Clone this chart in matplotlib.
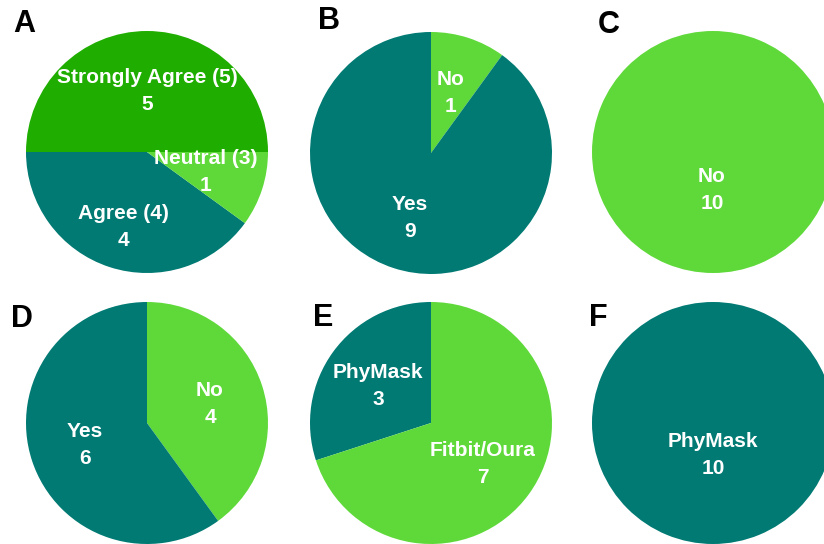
import matplotlib.pyplot as plt

TEAL = "#007A73"
LIGHT = "#5FD93A"
DARK = "#1FAE00"

# survey answers per panel
a_labels = ["Strongly Agree (5)", "Agree (4)", "Neutral (3)"]
a_values = [5, 4, 1]
b_labels = ["No", "Yes"]
b_values = [1, 9]
c_labels = ["No"]
c_values = [10]
d_labels = ["No", "Yes"]
d_values = [4, 6]
e_labels = ["PhyMask", "Fitbit/Oura"]
e_values = [3, 7]
f_labels = ["PhyMask"]
f_values = [10]

H = 544
fig = plt.figure(figsize=(8.24, 5.44), dpi=100)
ax = fig.add_axes([0, 0, 1, 1])

R = 121
panels = [
    # letter, letter pos, center, labels, values, colors, start, ccw, text positions
    ("A", (24, 24), (147, 152), a_labels, a_values, [DARK, TEAL, LIGHT], 0, True,
     [(147, 91), (123, 227), (206, 172)]),
    ("B", (329, 21), (431, 153), b_labels, b_values, [LIGHT, TEAL], 90, False,
     [(451, 93), (410, 218)]),
    ("C", (609, 25), (713, 152), c_labels, c_values, [LIGHT], 90, False,
     [(712, 190)]),
    ("D", (22, 319), (147, 423), d_labels, d_values, [LIGHT, TEAL], 90, False,
     [(210, 404), (85, 445)]),
    ("E", (323, 318), (431, 423), e_labels, e_values, [TEAL, LIGHT], 90, True,
     [(378, 386), (483, 464)]),
    ("F", (598, 318), (713, 423), f_labels, f_values, [TEAL], 90, False,
     [(713, 455)]),
]

for letter, lpos, center, labels, values, colors, start, ccw, tpos in panels:
    ax.pie(values, colors=colors, startangle=start, counterclock=ccw,
           center=(center[0], H - center[1]), radius=R,
           wedgeprops=dict(linewidth=0), frame=True)
    ax.text(lpos[0], H - lpos[1], letter, fontsize=22, fontweight="bold",
            family="Liberation Sans", ha="center", va="center", color="black")
    for name, val, (tx, ty) in zip(labels, values, tpos):
        ax.text(tx, H - ty, f"{name}\n{val}", fontsize=15, fontweight="bold",
                family="Liberation Sans", color="white", ha="center",
                va="center", linespacing=1.5)

ax.set_xlim(0, 824)
ax.set_ylim(0, H)
ax.set_aspect("equal")
ax.axis("off")
fig.savefig("out.png", dpi=100)
